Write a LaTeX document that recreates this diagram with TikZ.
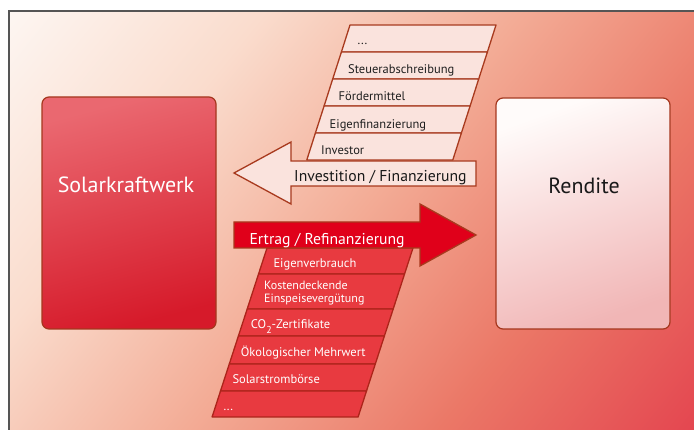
\documentclass[tikz,border=0pt]{standalone}
\usepackage{fontspec}
\setmainfont{PT Sans}
\definecolor{bg0}{RGB}{253,246,242}
\definecolor{bg1}{RGB}{250,220,205}
\definecolor{bg2}{RGB}{243,172,150}
\definecolor{bg3}{RGB}{235,120,103}
\definecolor{bg4}{RGB}{228,70,80}
\definecolor{framegray}{RGB}{85,85,85}
\definecolor{boxline}{RGB}{165,55,30}
\definecolor{skTop}{RGB}{234,104,112}
\definecolor{skBot}{RGB}{214,26,42}
\definecolor{reTop}{RGB}{255,251,250}
\definecolor{reBot}{RGB}{241,182,182}
\definecolor{upfill}{RGB}{250,227,221}
\definecolor{upline}{RGB}{168,58,30}
\definecolor{downfill}{RGB}{232,58,64}
\definecolor{downline}{RGB}{172,36,26}
\definecolor{arrowred}{RGB}{224,0,26}
% backdrop ramp: the central 50bp span runs from the light corner to the red one
\pgfdeclarehorizontalshading{backdrop}{100bp}{color(0bp)=(bg0); color(25bp)=(bg0);
  color(37.5bp)=(bg1); color(50bp)=(bg2); color(62.5bp)=(bg3); color(75bp)=(bg4);
  color(100bp)=(bg4)}
\begin{document}
\begin{tikzpicture}[x=1pt,y=-1pt,
  mainbox/.style={draw=boxline, line width=1.2pt, rounded corners=7pt,
    minimum width=174pt, inner sep=0pt},
  boxtext/.style={anchor=base, inner sep=0pt, font=\fontsize{22}{22}\selectfont},
  cellup/.style={draw=upline, fill=upfill, line width=1.3pt, line join=round},
  celldown/.style={draw=downline, fill=downfill, line width=1.3pt, line join=round},
  celltext/.style={anchor=base west, inner sep=0pt, font=\fontsize{12.5}{10}\selectfont},
  uptext/.style={celltext, text=black!88},
  downtext/.style={celltext, text=white},
  flowup/.style={draw=upline, fill=upfill, line width=1.3pt, line join=miter},
  flowdown/.style={draw=upline, fill=arrowred, line width=1.3pt, line join=miter},
  flowtext/.style={anchor=base west, inner sep=0pt, font=\fontsize{15.7}{16}\selectfont},
]
\useasboundingbox (0,0) rectangle (694,430);

% page background and frame
\fill[white] (0,0) rectangle (694,430);
\begin{scope}
  \clip (9,11) rectangle (694,430);
  \begin{scope}[transform canvas={rotate around={-38.9:(351.5,220.5)}}]
    \shade[shading=backdrop] (-46.5,-479.5) rectangle (749.5,920.5);
  \end{scope}
\end{scope}
\draw[framegray, line width=1.5pt] (9,430) -- (9,11) -- (694,11);

% the two main boxes
\node[mainbox, minimum height=232pt, top color=skTop, bottom color=skBot,
  shading angle=15] (kraftwerk) at (129,213) {};
\node[boxtext, text=white] (kraftwerkLabel) at (126,192.7) {Solarkraftwerk};

\node[mainbox, minimum height=231pt, top color=reTop, bottom color=reBot,
  shading angle=20] (rendite) at (583,213.5) {};
\node[boxtext, text=black!90] (renditeLabel) at (584,194) {Rendite};

% financing stack (top)
\draw[cellup] (350,25) -- (496,25) -- (487.4,52) -- (341.4,52) -- cycle;
\draw[cellup] (341.4,52) -- (487.4,52) -- (478.7,79) -- (332.7,79) -- cycle;
\draw[cellup] (332.7,79) -- (478.7,79) -- (470.1,106) -- (324.1,106) -- cycle;
\draw[cellup] (324.1,106) -- (470.1,106) -- (461.4,133) -- (315.4,133) -- cycle;
\draw[cellup] (315.4,133) -- (461.4,133) -- (452.8,160) -- (306.8,160) -- cycle;

\node[uptext] (moreUp) at (357.5,45) {...};
\node[uptext] (steuer) at (348,74) {Steuerabschreibung};
\node[uptext] (foerder) at (338.5,101) {Fördermittel};
\node[uptext] (eigenfin) at (329.5,129) {Eigenfinanzierung};
\node[uptext] (investor) at (321,155) {Investor};

% investment arrow pointing to the plant
\draw[flowup] (476,161) -- (291,161) -- (291,142) -- (234,173) -- (291,204)
  -- (291,186) -- (476,186) -- cycle;
\node[flowtext, text=black!90] (investition) at (294,181.7) {Investition / Finanzierung};

% revenue stack (bottom)
\draw[celldown] (267,248) -- (413,248) -- (404.55,274) -- (258.55,274) -- cycle;
\draw[celldown] (258.55,274) -- (404.55,274) -- (393.2,309) -- (247.2,309) -- cycle;
\draw[celldown] (247.2,309) -- (393.2,309) -- (384.4,336) -- (238.4,336) -- cycle;
\draw[celldown] (238.4,336) -- (384.4,336) -- (375.3,364) -- (229.3,364) -- cycle;
\draw[celldown] (229.3,364) -- (375.3,364) -- (366.5,391) -- (220.5,391) -- cycle;
\draw[celldown] (220.5,391) -- (366.5,391) -- (358.1,417) -- (212.1,417) -- cycle;

\node[downtext] (eigenverbrauch) at (273.3,267.5) {Eigenverbrauch};
\node[downtext, align=left, font=\fontsize{12}{12.3}\selectfont] (einspeisung)
  at (264,302.3) {Kostendeckende\\Einspeisevergütung};
\node[downtext] (zertifikate) at (250.7,328.3)
  {CO\raisebox{-5pt}{\fontsize{10}{10}\selectfont 2}-Zertifikate};
\node[downtext] (mehrwert) at (240.7,356.7) {Ökologischer Mehrwert};
\node[downtext] (boerse) at (232.3,384) {Solarstrombörse};
\node[downtext] (moreDown) at (223.3,410) {...};

% revenue arrow pointing to the return
\draw[flowdown] (234,222) -- (420,222) -- (420,204) -- (476,235) -- (420,266)
  -- (420,248) -- (234,248) -- cycle;
\node[flowtext, text=white] (ertrag) at (249.3,244.3) {Ertrag / Refinanzierung};
\end{tikzpicture}
\end{document}
